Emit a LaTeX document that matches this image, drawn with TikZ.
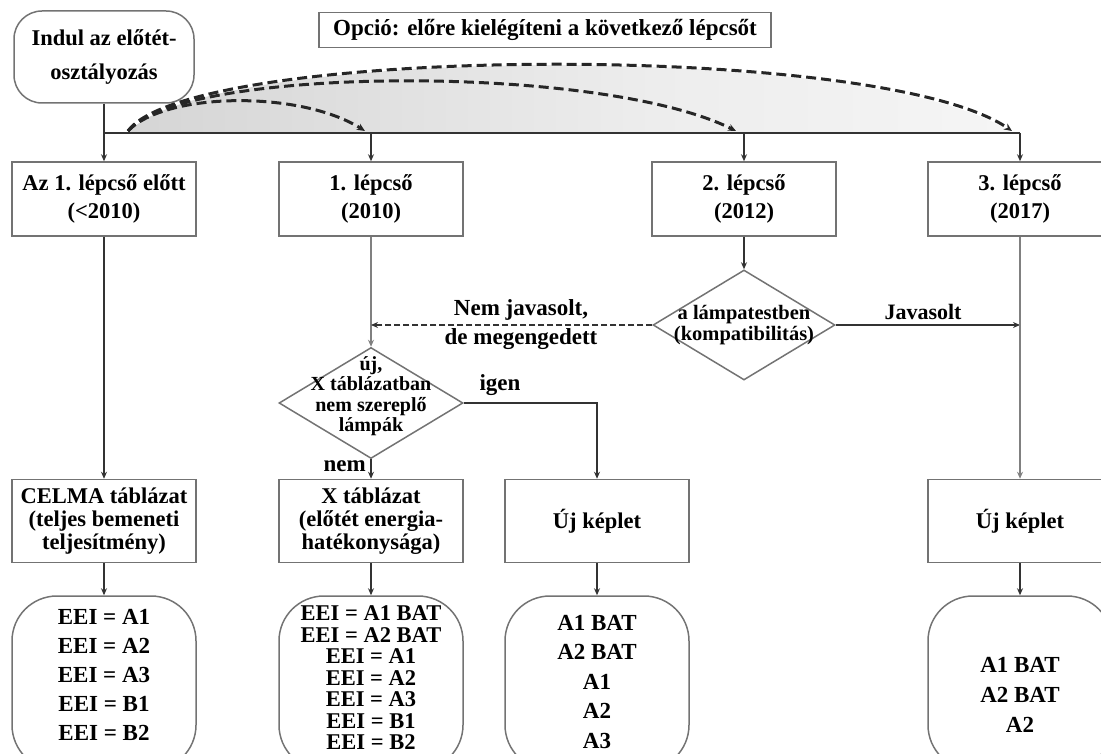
\documentclass[tikz,border=0pt]{standalone}
\usepackage{fontspec}
\setmainfont{Liberation Serif}
\usetikzlibrary{shapes.geometric,arrows.meta}
\pgfdeclarehorizontalshading{arcshade}{100bp}{color(0bp)=(black!85); color(5bp)=(black!45); color(20bp)=(black!18); color(55bp)=(black!7); color(100bp)=(white)}
\begin{document}
\begin{tikzpicture}[x=1pt,y=-1pt,
  every node/.style={font=\bfseries\fontsize{22.5}{28}\selectfont, align=center, inner sep=0pt},
  frame/.style={draw=black!55, line width=1.5pt, minimum width=184pt},
  topbox/.style={frame, minimum height=74pt},
  lowbox/.style={frame, minimum height=83pt, font=\bfseries\fontsize{22.5}{23}\selectfont},
  resbox/.style={frame, minimum height=174pt, rounded corners=45pt},
  startbox/.style={draw=black!55, line width=1.5pt, minimum width=180pt, minimum height=92pt, rounded corners=28pt, font=\bfseries\fontsize{22.5}{34}\selectfont},
  optbox/.style={draw=black!55, line width=1.5pt, minimum width=452pt, minimum height=35pt, font=\bfseries\fontsize{23}{24}\selectfont},
  decision/.style={diamond, draw=black!55, line width=1.5pt, minimum width=182pt, minimum height=110pt},
  dtext/.style={font=\bfseries\fontsize{20.5}{21}\selectfont},
  tip/.style={-{Stealth[length=7pt,width=6pt]}},
  conn/.style={draw=black!80, line width=2pt},
  grayconn/.style={draw=black!50, line width=2.4pt},
  dashconn/.style={draw=black!80, line width=2.5pt, dash pattern=on 6pt off 3pt},
  arcline/.style={draw=black!85, line width=3pt, dash pattern=on 10pt off 5pt, -{Stealth[length=8pt,width=7pt]}},
  lbl/.style={font=\bfseries\fontsize{23}{28}\selectfont}
]
\useasboundingbox (0,0) rectangle (1101,754);

% shading under the arcs
\shade[shading=arcshade] (128,133) .. controls (200,45) and (880,40) .. (1012,133) -- cycle;

% top nodes
\node[startbox] (start) at (104,57) {Indul az előtét-\\osztályozás};
\node[optbox] (opt) at (545,30) {Opció: előre kielégíteni a következő lépcsőt};

\node[topbox] (s0) at (104,199) {Az 1. lépcső előtt\\(<2010)};
\node[topbox] (s1) at (371,199) {1. lépcső\\(2010)};
\node[topbox] (s2) at (744,199) {2. lépcső\\(2012)};
\node[topbox] (s3) at (1020,199) {3. lépcső\\(2017)};

% bus
\coordinate (b0) at (104,133);
\coordinate (b1) at (371,133);
\coordinate (b2) at (744,133);
\coordinate (b3) at (1020,133);
\draw[conn] (start.south) -- (b0) -- (b3);
\draw[conn,tip] (b0) -- (s0);
\draw[conn,tip] (b1) -- (s1);
\draw[conn,tip] (b2) -- (s2);
\draw[conn,tip] (b3) -- (s3);

% option arcs
\coordinate (a0) at (128,131);
\coordinate (a1) at (365,131);
\coordinate (a2) at (736,131);
\coordinate (a3) at (1012,131);
\draw[arcline] (a0) .. controls (165,92) and (300,90) .. (a1);
\draw[arcline] (a0) .. controls (180,66) and (600,63) .. (a2);
\draw[arcline] (a0) .. controls (190,45) and (880,40) .. (a3);

% decisions
\node[decision, label={[dtext]center:a lámpatestben\\(kompatibilitás)}] (dR) at (744,325) {};
\node[decision, minimum width=184pt, minimum height=111pt, label={[dtext, font=\bfseries\fontsize{20}{20.5}\selectfont, yshift=7pt]center:új,\\X táblázatban\\nem szereplő\\lámpák}] (d2) at (371,403) {};

\draw[conn,tip] (s2) -- (dR);
\draw[grayconn,tip] (s1) -- (d2);
\draw[dashconn,tip] (dR.west) -- (dR.west -| s1);
\node[lbl] (nj) at (521,310) {Nem javasolt,};
\node[lbl] (dm) at (521,339) {de megengedett};
\draw[conn,tip] (dR.east) -- (dR.east -| s3);
\node[lbl, font=\bfseries\fontsize{22}{24}\selectfont] (jav) at (923,312) {Javasolt};

% lower boxes
\node[lowbox] (c0) at (104,521) {CELMA táblázat\\(teljes bemeneti\\teljesítmény)};
\node[lowbox] (c1) at (371,521) {X táblázat\\(előtét energia-\\hatékonysága)};
\node[lowbox] (c2) at (597,521) {Új képlet};
\node[lowbox] (c3) at (1020,521) {Új képlet};

\draw[conn,tip] (s0) -- (c0);
\draw[conn,tip] (d2) -- (c1);
\node[lbl, anchor=east] (nem) at (366,466) {nem};
\draw[conn,tip] (d2.east) -| (c2);
\node[lbl] (igen) at (500,385) {igen};
\draw[grayconn,tip] (s3) -- (c3);

% result boxes
\node[resbox, label={[yshift=8pt, font=\bfseries\fontsize{23}{29}\selectfont]center:EEI = A1\\EEI = A2\\EEI = A3\\EEI = B1\\EEI = B2}] (r0) at (104,683) {};
\node[resbox, label={[yshift=5pt, font=\bfseries\fontsize{22.5}{21.5}\selectfont]center:EEI = A1 BAT\\EEI = A2 BAT\\EEI = A1\\EEI = A2\\EEI = A3\\EEI = B1\\EEI = B2}] (r1) at (371,683) {};
\node[resbox, label={[yshift=1pt, font=\bfseries\fontsize{23}{29.5}\selectfont]center:A1 BAT\\A2 BAT\\A1\\A2\\A3}] (r2) at (597,683) {};
\node[resbox, label={[yshift=-12pt, font=\bfseries\fontsize{23}{30}\selectfont]center:A1 BAT\\A2 BAT\\A2}] (r3) at (1020,683) {};

\draw[conn,tip] (c0) -- (r0);
\draw[conn,tip] (c1) -- (r1);
\draw[conn,tip] (c2) -- (r2);
\draw[conn,tip] (c3) -- (r3);
\end{tikzpicture}
\end{document}
